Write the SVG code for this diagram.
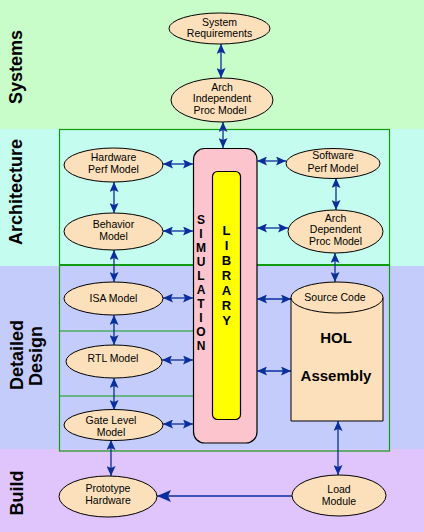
<svg xmlns="http://www.w3.org/2000/svg" width="424" height="532" viewBox="0 0 424 532">
<defs>
<marker id="ah" markerUnits="userSpaceOnUse" markerWidth="10" markerHeight="9" refX="10" refY="4.5" orient="auto-start-reverse" viewBox="0 0 10 9">
<path d="M0,0 L10,4.5 L0,9 L2,4.5 z" fill="#0a2f9c"/>
</marker>
<marker id="ahb" markerUnits="userSpaceOnUse" markerWidth="14" markerHeight="12" refX="14" refY="6" orient="auto" viewBox="0 0 14 12">
<path d="M0,0 L14,6 L0,12 L3,6 z" fill="#0a2f9c"/>
</marker>
</defs>
<style>
.band{font-family:"Liberation Sans",Arial,sans-serif;font-weight:bold;font-size:18px;fill:#000}
.lbl{font-family:"Liberation Sans",Arial,sans-serif;font-size:10.5px;fill:#000;text-anchor:middle}
.node{fill:#fce0bb;stroke:#000;stroke-width:1}
.big{font-family:"Liberation Sans",Arial,sans-serif;font-weight:bold;font-size:15px;fill:#000;text-anchor:middle}
.vert{font-family:"Liberation Sans",Arial,sans-serif;font-weight:bold;font-size:12px;fill:#000;text-anchor:middle}
.c{stroke:#0a2f9c;stroke-width:1.3;fill:none;marker-start:url(#ah);marker-end:url(#ah)}
.c1{stroke:#0a2f9c;stroke-width:1.3;fill:none;marker-end:url(#ahb)}
.g{stroke:#109c10;fill:none}
</style>
<g id="bands">
<rect x="0" y="0" width="424" height="129" fill="#c8fcc8"/>
<rect x="0" y="129" width="424" height="137" fill="#c4fcf0"/>
<rect x="0" y="266" width="424" height="183" fill="#c4ccfc"/>
<rect x="0" y="449" width="424" height="83" fill="#e0c4fc"/>
<text class="band" transform="translate(22,67) rotate(-90)" text-anchor="middle">Systems</text>
<text class="band" transform="translate(22,192) rotate(-90)" text-anchor="middle">Architecture</text>
<text class="band" transform="translate(23,355) rotate(-90)" text-anchor="middle">Detailed</text>
<text class="band" transform="translate(42,356) rotate(-90)" text-anchor="middle">Design</text>
<text class="band" transform="translate(23,493) rotate(-90)" text-anchor="middle">Build</text>
</g>
<g id="frame">
<rect class="g" x="59.5" y="129.5" width="330" height="321.5" stroke-width="1.2"/>
<line class="g" x1="59" y1="265" x2="390" y2="265" stroke-width="2.2"/>
<line class="g" x1="59" y1="331" x2="193" y2="331" stroke-width="1"/>
<line class="g" x1="59" y1="396" x2="193" y2="396" stroke-width="1"/>
</g>
<g id="simulation">
<rect x="193.5" y="148.5" width="63.5" height="294.5" rx="11" fill="#fcc4cc" stroke="#000" stroke-width="1.2"/>
<g class="vert">
<text x="201" y="224">S</text><text x="201" y="238">I</text><text x="201" y="252">M</text><text x="201" y="266">U</text><text x="201" y="280">L</text><text x="201" y="294">A</text><text x="201" y="308">T</text><text x="201" y="322">I</text><text x="201" y="336">O</text><text x="201" y="350">N</text>
</g>
</g>
<g id="library">
<rect x="212.5" y="171.5" width="28" height="248" rx="5" fill="#ffff00" stroke="#000" stroke-width="1.2"/>
<g class="vert" style="font-size:13px">
<text x="226.5" y="235">L</text><text x="226.5" y="250">I</text><text x="226.5" y="265">B</text><text x="226.5" y="280">R</text><text x="226.5" y="295">A</text><text x="226.5" y="310">R</text><text x="226.5" y="325">Y</text>
</g>
</g>
<g id="connectors">
<path class="c" d="M221,44 V78"/>
<path class="c" d="M223,122 V148"/>
<path class="c" d="M163,164 H193"/>
<path class="c" d="M163,231 H193"/>
<path class="c" d="M114,182 V213"/>
<path class="c" d="M114,250 V282"/>
<path class="c" d="M257,161 H286"/>
<path class="c" d="M257,228 H288"/>
<path class="c" d="M336,178 V210"/>
<path class="c" d="M335,253 V282"/>
<path class="c" d="M163,298 H193"/>
<path class="c" d="M162,360 H193"/>
<path class="c" d="M163,424 H193"/>
<path class="c" d="M114,315 V345"/>
<path class="c" d="M114,378 V410"/>
<path class="c" d="M111,440 V476"/>
<path class="c" d="M257,299 H291"/>
<path class="c" d="M257,371 H291"/>
<path class="c" d="M338,421 V475"/>
<path class="c1" d="M292,496 H157"/>
</g>
<g id="sysreq">
<ellipse class="node" cx="219.5" cy="28.5" rx="50.5" ry="15.5"/>
<text class="lbl" x="219.5" y="25.5">System</text>
<text class="lbl" x="219.5" y="37">Requirements</text>
</g>
<g id="archindep">
<ellipse class="node" cx="222" cy="100" rx="51" ry="22"/>
<text class="lbl" x="222" y="90.5">Arch</text>
<text class="lbl" x="222" y="102">Independent</text>
<text class="lbl" x="220" y="114">Proc  Model</text>
</g>
<g id="hwperf">
<ellipse class="node" cx="113.5" cy="165" rx="49.5" ry="17"/>
<text class="lbl" x="113.5" y="161">Hardware</text>
<text class="lbl" x="113.5" y="172.5">Perf Model</text>
</g>
<g id="behavior">
<ellipse class="node" cx="113.5" cy="231.5" rx="49.5" ry="18.5"/>
<text class="lbl" x="113.5" y="228">Behavior</text>
<text class="lbl" x="113.5" y="240">Model</text>
</g>
<g id="swperf">
<ellipse class="node" cx="333" cy="163.5" rx="47" ry="15"/>
<text class="lbl" x="333" y="159">Software</text>
<text class="lbl" x="333" y="171.5">Perf Model</text>
</g>
<g id="archdep">
<ellipse class="node" cx="335.5" cy="231.5" rx="47.5" ry="21.5"/>
<text class="lbl" x="335.5" y="221.5">Arch</text>
<text class="lbl" x="335.5" y="233">Dependent</text>
<text class="lbl" x="335.5" y="245">Proc Model</text>
</g>
<g id="isa">
<ellipse class="node" cx="113.5" cy="298.5" rx="49.5" ry="16.5"/>
<text class="lbl" x="113.5" y="301.5">ISA Model</text>
</g>
<g id="rtl">
<ellipse class="node" cx="114" cy="361.5" rx="48" ry="16.5"/>
<text class="lbl" x="113" y="362">RTL Model</text>
</g>
<g id="gate">
<ellipse class="node" cx="113.5" cy="425" rx="49.5" ry="15.5"/>
<text class="lbl" x="111" y="423.5">Gate Level</text>
<text class="lbl" x="111" y="435.5">Model</text>
</g>
<g id="sourcecode">
<path class="node" d="M291,297.5 V421 H383 V297.5"/>
<ellipse class="node" cx="337" cy="297.5" rx="46" ry="15.5"/>
<text class="lbl" x="335" y="301">Source Code</text>
<text class="big" x="336" y="343">HOL</text>
<text class="big" x="336" y="381">Assembly</text>
</g>
<g id="prototype">
<ellipse class="node" cx="108" cy="496.5" rx="49" ry="20.5"/>
<text class="lbl" x="108" y="492">Prototype</text>
<text class="lbl" x="108" y="504">Hardware</text>
</g>
<g id="loadmodule">
<ellipse class="node" cx="339" cy="495.5" rx="47" ry="20.5"/>
<text class="lbl" x="339" y="493">Load</text>
<text class="lbl" x="339" y="505">Module</text>
</g>
</svg>
